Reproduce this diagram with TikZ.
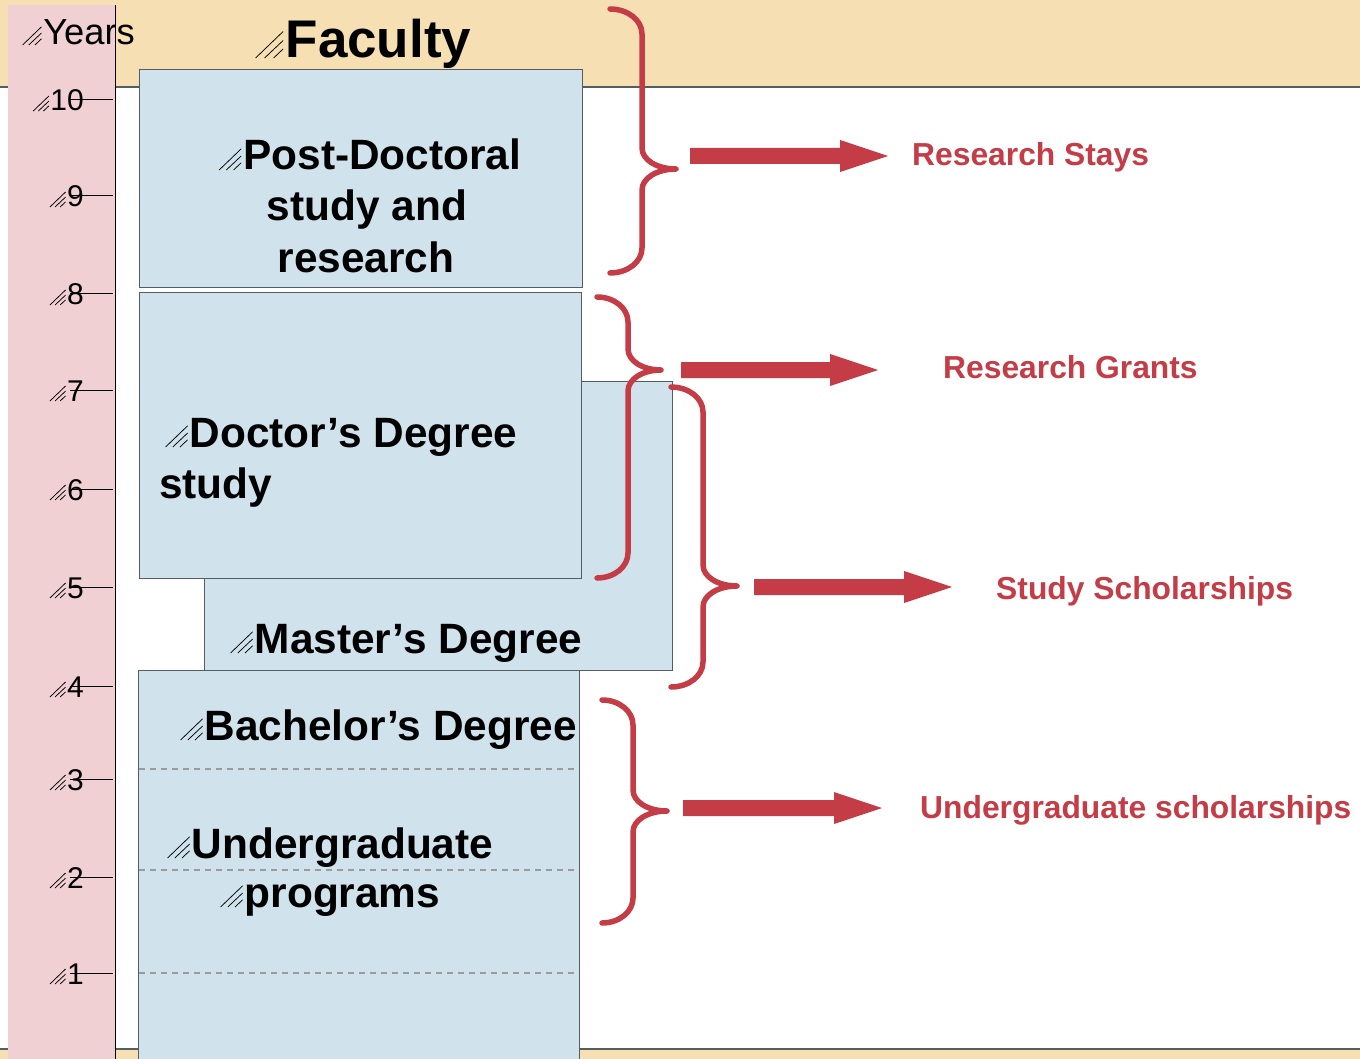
\documentclass[tikz,border=0pt]{standalone}
\usepackage{fontspec}
\setmainfont{Liberation Sans}
\definecolor{tanband}{RGB}{245,223,179}
\definecolor{pinkcol}{RGB}{241,208,212}
\definecolor{boxblue}{RGB}{208,227,236}
\definecolor{boxedge}{RGB}{85,92,98}
\definecolor{bracered}{RGB}{195,60,70}
\definecolor{dashgray}{RGB}{155,155,155}
\newcommand\hatchmark{\tikz[x=1em,y=1em,baseline=0pt]{\draw[line width=0.75pt,black,solid,line cap=butt] (0,0)--(0.52,0.5) (0.17,0)--(0.52,0.33) (0.34,0)--(0.52,0.17);}\kern0.04em}
% #1 top x, #2 top y, #3 vertical x, #4 tip x, #5 tip y, #6 bottom y
\newcommand\curlybrace[6]{%
  \draw[bracestyle] (#1,#2) .. controls ({#1+0.55*(#3-#1)},#2) and (#3,{#2+11}) .. ({#3},{#2+25})
    -- ({#3},{#5-21}) .. controls (#3,{#5-9}) and ({#3+0.45*(#4-#3)},#5) .. (#4,#5)
    .. controls ({#3+0.45*(#4-#3)},#5) and (#3,{#5+9}) .. ({#3},{#5+21})
    -- ({#3},{#6-25}) .. controls (#3,{#6-11}) and ({#1+0.55*(#3-#1)},#6) .. (#1,#6);}
% #1 start x, #2 end x, #3 y
\newcommand\fatarrow[3]{%
  \fill[bracered] (#1,{#3-8}) -- ({#2-48},{#3-8}) -- ({#2-48},{#3-16}) -- (#2,#3)
    -- ({#2-48},{#3+16}) -- ({#2-48},{#3+8}) -- (#1,{#3+8}) -- cycle;}
\begin{document}
\begin{tikzpicture}[x=1pt,y=-1pt,
  bracestyle/.style={draw=bracered,line width=5.5pt,line cap=round,line join=round},
  degbox/.style={draw=boxedge,fill=boxblue,line width=1.2pt,anchor=north west,inner sep=0pt,minimum width=#1},
  degtext/.style={font=\fontsize{42.4}{50}\selectfont\bfseries,anchor=base west,inner sep=0pt},
  redlabel/.style={font=\fontsize{31.8}{38}\selectfont\bfseries,text=bracered,anchor=base west,inner sep=0pt},
  yearnum/.style={font=\fontsize{30}{36}\selectfont,anchor=base east,inner sep=0pt},
  tickline/.style={draw=black,line width=1pt}]
\useasboundingbox (0,0) rectangle (1360,1059);
\fill[white] (0,0) rectangle (1360,1059);
% bands
\fill[tanband] (0,0) rectangle (1360,86);
\draw[boxedge,line width=2.5pt] (0,87) -- (1360,87);
\fill[tanband] (0,1049) rectangle (1360,1059);
\draw[boxedge,line width=2.5pt] (0,1049) -- (1360,1049);
% years column
\fill[pinkcol] (8,5) rectangle (115,1059);
\node[font=\fontsize{36.3}{40}\selectfont,anchor=base west,inner sep=0pt] (years) at (22,45) {\hatchmark Years};
\draw[black,line width=1pt] (115,5) -- (115,1059);
\foreach \n/\y in {10/100,9/196,8/294,7/390,6/489,5/587,4/686,3/779,2/877,1/973}{
  \draw[tickline] (70,\y) -- (113,\y);
  \node[yearnum] (yr\n) at (84,{\y+11}) {\hatchmark\n};
}
% title
\node[font=\fontsize{53}{60}\selectfont\bfseries,anchor=base west,inner sep=0pt] (faculty) at (255,58) {\hatchmark Faculty};
% degree boxes
\node[degbox=468pt,minimum height=289pt] (master) at (204,381) {};
\node[degbox=443pt,minimum height=218pt] (postdoc) at (139,69) {};
\node[degbox=442pt,minimum height=286pt] (doctor) at (139,292) {};
\node[degbox=441pt,minimum height=400pt] (bachelor) at (138,670) {};
\foreach \y in {769,870,973}{
  \draw[dashgray,line width=1.5pt,dash pattern=on 6pt off 5pt] (139,\y) -- (578,\y);
}
% box texts
\node[degtext,anchor=base] (pd1) at (370,170) {\hatchmark Post-Doctoral};
\node[degtext,anchor=base] (pd2) at (367,221) {study and};
\node[degtext,anchor=base] (pd3) at (366,273) {research};
\node[degtext] (dr1) at (165,447) {\hatchmark Doctor’s Degree};
\node[degtext] (dr2) at (159,498) {study};
\node[degtext] (ms1) at (230,653) {\hatchmark Master’s Degree};
\node[degtext] (ba1) at (180,740) {\hatchmark Bachelor’s Degree};
\node[degtext] (ug1) at (167,858) {\hatchmark Undergraduate};
\node[degtext] (ug2) at (220,907) {\hatchmark programs};
% braces
\curlybrace{610}{9}{642}{676}{169}{273}
\curlybrace{597}{297}{628}{661}{370}{578}
\curlybrace{671}{387}{703}{737}{586}{687}
\curlybrace{602}{700}{633}{667}{811}{923}
% arrows
\fatarrow{690}{888}{156}
\fatarrow{681}{878}{370}
\fatarrow{754}{952}{587}
\fatarrow{683}{882}{808}
% labels
\node[redlabel] (stays) at (912,166) {Research Stays};
\node[redlabel] (grants) at (943,378) {Research Grants};
\node[redlabel] (study) at (996,599) {Study Scholarships};
\node[redlabel] (under) at (920,818) {Undergraduate scholarships};
\end{tikzpicture}
\end{document}
